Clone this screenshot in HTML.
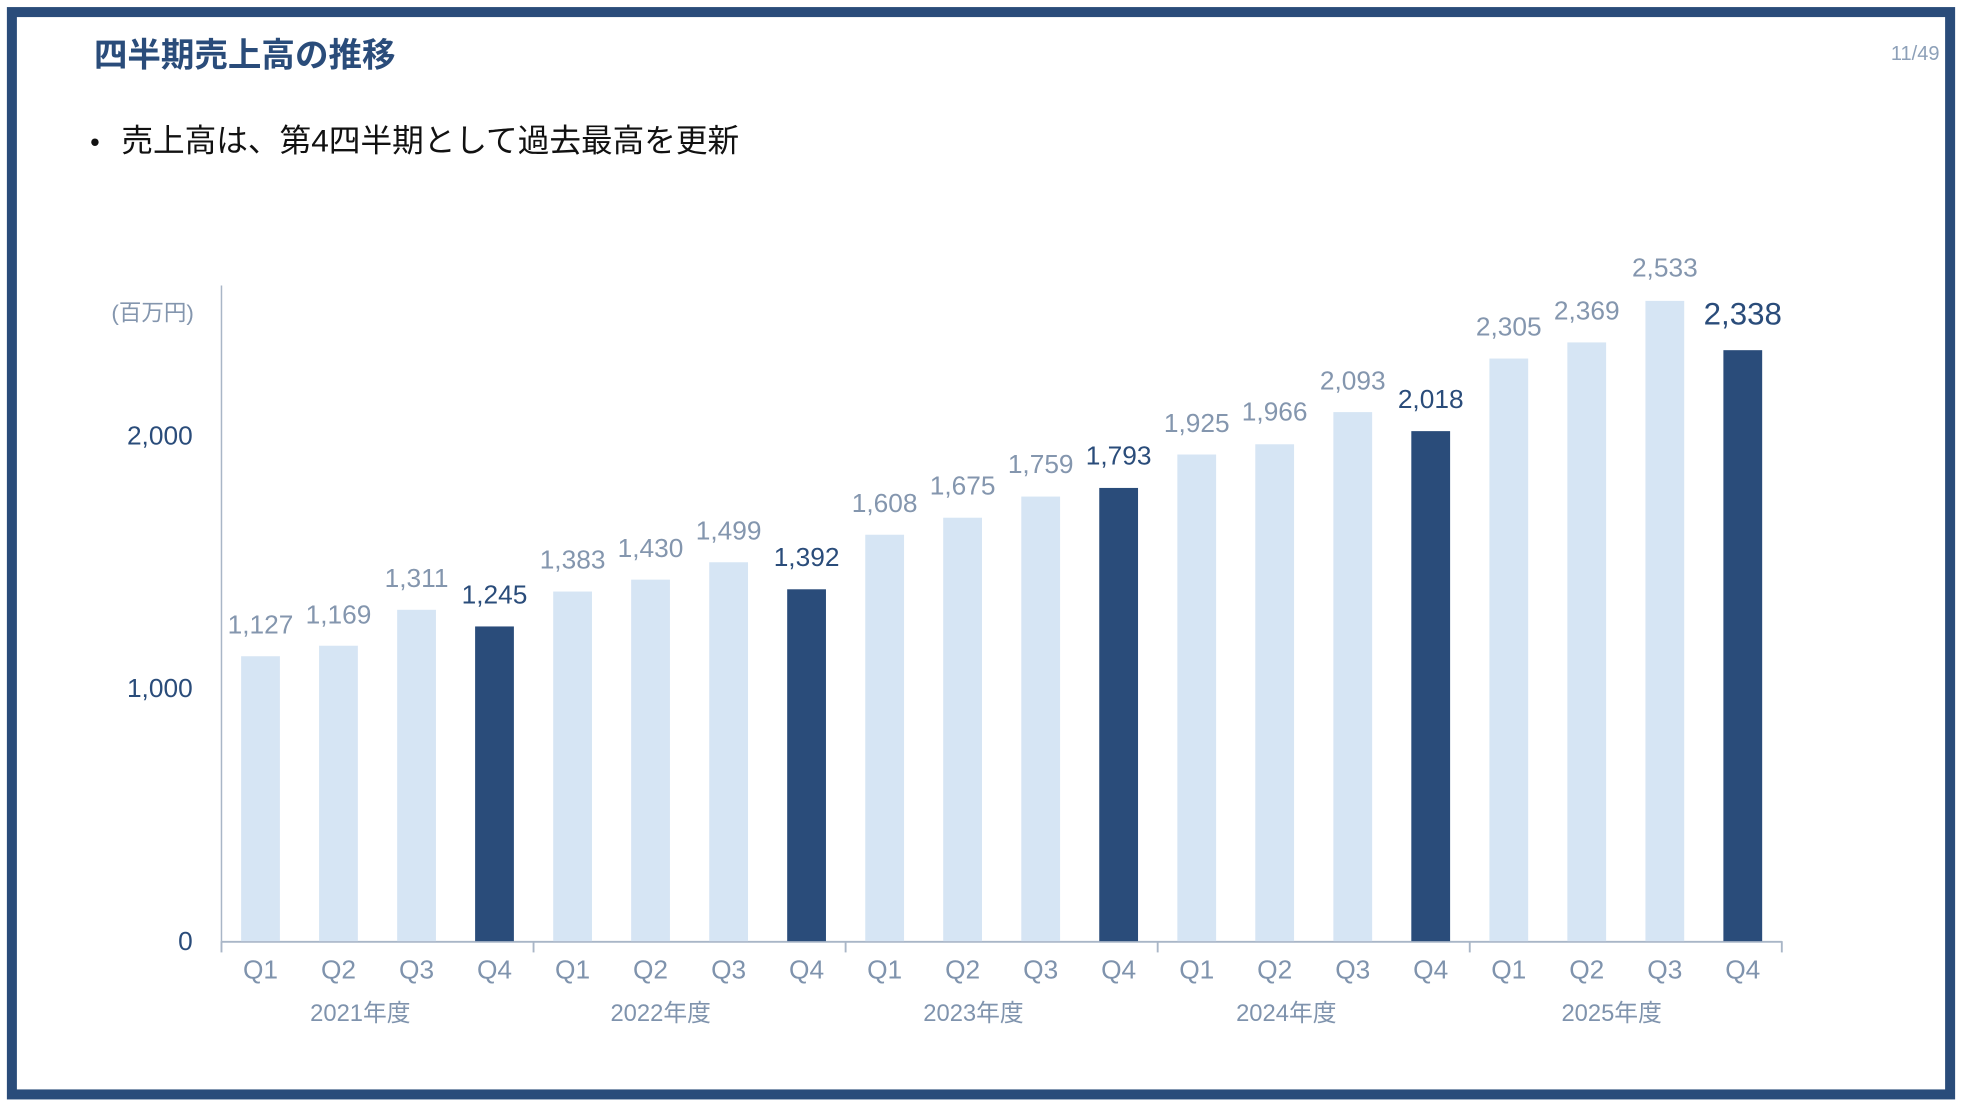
<!DOCTYPE html>
<html><head><meta charset="utf-8"><style>
html,body{margin:0;padding:0;background:#fff;}
svg{display:block;}
text{font-family:"Liberation Sans","Noto Sans CJK JP",sans-serif;}
</style></head><body>
<svg width="1962" height="1104" viewBox="0 0 1568 882" xmlns="http://www.w3.org/2000/svg">
<rect x="0" y="0" width="1568" height="882" fill="#fff"/>
<rect x="9.5" y="9.5" width="1549" height="865" fill="none" stroke="#2a4c7a" stroke-width="8"/>
<text x="75" y="53" font-size="26.8" font-weight="bold" fill="#2a4c7a">四半期売上高の推移</text>
<text x="1550" y="48" font-size="16" fill="#8da0b8" text-anchor="end">11/49</text>
<text x="72" y="121" font-size="22" fill="#111">•</text>
<text x="97" y="121" font-size="25.3" fill="#111">売上高は、第4四半期として過去最高を更新</text>
<text x="155" y="256" font-size="18" fill="#8496ae" text-anchor="end">(百万円)</text>
<g font-size="21" fill="#2a4c7a" text-anchor="end">
<text x="154" y="355">2,000</text>
<text x="154" y="557">1,000</text>
<text x="154" y="759">0</text>
</g>
<line x1="177" y1="228" x2="177" y2="752" stroke="#a9b6c7" stroke-width="1.2"/>
<line x1="177" y1="752.5" x2="1424" y2="752.5" stroke="#a9b6c7" stroke-width="1.5"/>
<g stroke="#a9b6c7" stroke-width="1.5">
<line x1="177" y1="752" x2="177" y2="761"/><line x1="426.4" y1="752" x2="426.4" y2="761"/>
<line x1="675.8" y1="752" x2="675.8" y2="761"/><line x1="925.2" y1="752" x2="925.2" y2="761"/>
<line x1="1174.6" y1="752" x2="1174.6" y2="761"/><line x1="1424" y1="752" x2="1424" y2="761"/>
</g>
<g fill="#d6e5f4">
<rect x="192.7" y="524.3" width="31" height="227.7"/>
<rect x="255.0" y="515.9" width="31" height="236.1"/>
<rect x="317.4" y="487.2" width="31" height="264.8"/>
<rect x="442.1" y="472.6" width="31" height="279.4"/>
<rect x="504.4" y="463.1" width="31" height="288.9"/>
<rect x="566.8" y="449.2" width="31" height="302.8"/>
<rect x="691.5" y="427.2" width="31" height="324.8"/>
<rect x="753.8" y="413.6" width="31" height="338.4"/>
<rect x="816.2" y="396.7" width="31" height="355.3"/>
<rect x="940.9" y="363.1" width="31" height="388.9"/>
<rect x="1003.2" y="354.9" width="31" height="397.1"/>
<rect x="1065.6" y="329.2" width="31" height="422.8"/>
<rect x="1190.3" y="286.4" width="31" height="465.6"/>
<rect x="1252.6" y="273.5" width="31" height="478.5"/>
<rect x="1315.0" y="240.3" width="31" height="511.7"/>
</g>
<g fill="#2a4c7a">
<rect x="379.7" y="500.5" width="31" height="251.5"/>
<rect x="629.1" y="470.8" width="31" height="281.2"/>
<rect x="878.5" y="389.8" width="31" height="362.2"/>
<rect x="1127.9" y="344.4" width="31" height="407.6"/>
<rect x="1377.3" y="279.7" width="31" height="472.3"/>
</g>
<g font-size="21" text-anchor="middle" fill="#8496ae">
<text x="208.2" y="506">1,127</text>
<text x="270.5" y="498">1,169</text>
<text x="332.9" y="469">1,311</text>
<text x="457.6" y="454">1,383</text>
<text x="519.9" y="445">1,430</text>
<text x="582.3" y="431">1,499</text>
<text x="707.0" y="409">1,608</text>
<text x="769.3" y="395">1,675</text>
<text x="831.7" y="378">1,759</text>
<text x="956.4" y="345">1,925</text>
<text x="1018.7" y="336">1,966</text>
<text x="1081.1" y="311">2,093</text>
<text x="1205.8" y="268">2,305</text>
<text x="1268.1" y="255">2,369</text>
<text x="1330.5" y="221">2,533</text>
</g>
<g font-size="21" text-anchor="middle" fill="#2a4c7a">
<text x="395.2" y="482">1,245</text>
<text x="644.6" y="452">1,392</text>
<text x="894.0" y="371">1,793</text>
<text x="1143.4" y="326">2,018</text>
<text x="1392.8" y="259" font-size="25">2,338</text>
</g>
<g font-size="21" text-anchor="middle" fill="#7f93ad">
<text x="208.2" y="782">Q1</text><text x="270.5" y="782">Q2</text><text x="332.9" y="782">Q3</text><text x="395.2" y="782">Q4</text>
<text x="457.6" y="782">Q1</text><text x="519.9" y="782">Q2</text><text x="582.3" y="782">Q3</text><text x="644.6" y="782">Q4</text>
<text x="707.0" y="782">Q1</text><text x="769.3" y="782">Q2</text><text x="831.7" y="782">Q3</text><text x="894.0" y="782">Q4</text>
<text x="956.4" y="782">Q1</text><text x="1018.7" y="782">Q2</text><text x="1081.1" y="782">Q3</text><text x="1143.4" y="782">Q4</text>
<text x="1205.8" y="782">Q1</text><text x="1268.1" y="782">Q2</text><text x="1330.5" y="782">Q3</text><text x="1392.8" y="782">Q4</text>
</g>
<g font-size="19" text-anchor="middle" fill="#7f93ad">
<text x="288" y="816">2021年度</text>
<text x="528" y="816">2022年度</text>
<text x="778" y="816">2023年度</text>
<text x="1028" y="816">2024年度</text>
<text x="1288" y="816">2025年度</text>
</g>
</svg>
</body></html>
